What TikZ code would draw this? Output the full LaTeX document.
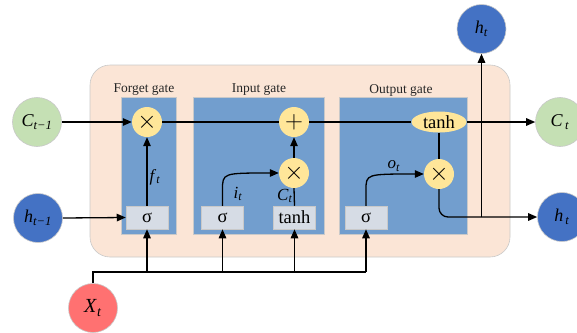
\documentclass[tikz,border=0pt]{standalone}
\usepackage{fontspec}
\setmainfont{Liberation Serif}
\usetikzlibrary{arrows.meta,shapes.geometric}
\definecolor{peach}{HTML}{FBE5D6}
\definecolor{gateblue}{HTML}{729ECE}
\definecolor{sigbox}{HTML}{D6DCE5}
\definecolor{opyellow}{HTML}{FFE699}
\definecolor{cgreen}{HTML}{C5E0B4}
\definecolor{hblue}{HTML}{4472C4}
\definecolor{xred}{HTML}{FF7171}
\definecolor{edgegray}{HTML}{C9C9C9}
\newcommand{\ital}[2]{\textit{#1}\textsubscript{\textit{#2}}}
\tikzset{
  state/.style={circle, draw=edgegray, line width=0.6pt, minimum size=49pt, inner sep=0pt, font=\fontsize{18}{20}\selectfont},
  opcirc/.style={circle, fill=opyellow, draw=none, minimum size=30pt, inner sep=0pt, font=\fontsize{24}{26}\selectfont},
  actbox/.style={rectangle, fill=sigbox, draw=edgegray, line width=0.5pt, minimum width=42pt, minimum height=23pt, inner sep=0pt, font=\fontsize{18.5}{20}\selectfont},
  gatebox/.style={rectangle, fill=gateblue, draw=edgegray, line width=0.6pt, inner sep=0pt},
  gatelabel/.style={font=\fontsize{13.5}{15}\selectfont, text=black!85},
  varlabel/.style={font=\fontsize{17}{18}\selectfont, inner sep=1pt},
  flow/.style={line width=1.3pt, draw=black},
}
\begin{document}
\begin{tikzpicture}[x=1pt,y=-1pt, >={Triangle[length=9pt,width=7.5pt]}]
\useasboundingbox (0,0) rectangle (577,332);
\clip (0,0) rectangle (577,332);
% big cell
\node[rectangle, rounded corners=20pt, fill=peach, draw=edgegray, line width=0.6pt, minimum width=420pt, minimum height=192pt] (cell) at (300,161) {};
% gates
\node[gatebox, minimum width=55pt, minimum height=137pt] (fg) at (148.5,165.5) {};
\node[gatebox, minimum width=131pt, minimum height=137pt] (ig) at (258.5,165.5) {};
\node[gatebox, minimum width=128pt, minimum height=137pt] (og) at (403,165.5) {};
\node[gatelabel] (fgl) at (144,90) {Forget gate};
\node[gatelabel] (igl) at (259,90) {Input gate};
\node[gatelabel] (ogl) at (401,90) {Output gate};
% states
\node[state, fill=cgreen] (cprev) at (37,122) {\ital{C}{t−1}};
\node[state, fill=hblue] (hprev) at (38,218) {\ital{h}{t−1}};
\node[state, fill=cgreen] (cnext) at (560,122) {\ital{C}{\,t}};
\node[state, fill=hblue] (hnext) at (562,217) {\ital{h}{\,t}};
\node[state, fill=hblue] (htop) at (481.5,29) {\ital{h}{t}};
\node[state, fill=xred, font=\fontsize{20}{22}\selectfont] (xin) at (93,308) {\ital{X}{t}};
% forget gate
\node[opcirc] (fm) at (147,122) {$\times$};
\node[actbox] (fs) at (147,217.5) {σ};
% input gate
\node[opcirc] (ia) at (294,122) {$+$};
\node[opcirc] (im) at (294,173) {$\times$};
\node[actbox] (is) at (222.5,217.5) {σ};
\node[actbox] (it) at (294.5,217.5) {tanh};
% output gate
\node[opcirc, ellipse, minimum width=55pt, minimum height=21pt, font=\fontsize{18.5}{20}\selectfont] (ot) at (439,122) {tanh};
\node[opcirc] (om) at (439,174) {$\times$};
\node[actbox] (os) at (366,217.5) {σ};
% labels
\node[varlabel] (flab) at (155,177) {\ital{f}{t}};
\node[varlabel] (ilab) at (238,194) {\ital{i}{t}};
\node[varlabel] (clab) at (285,196) {\ital{C}{t}};
\node[varlabel] (olab) at (394,166) {\ital{o}{t}};
% cell state line
\draw[flow,->] (cprev.east) -- (fm.west);
\draw[flow] (fm.east) -- (ia.west);
\draw[flow] (ia.east) -- (ot.west);
\draw[flow,->] (ot.east) -- (cnext.west);
% hidden input
\draw[flow,->] (hprev.east) -- (fs.west);
\draw[flow,->] (fs.north) -- (fm.south);
% input gate flows
\draw[flow,->] (is.north) -- (222.5,190) .. controls (222.5,173) .. (im.west);
\draw[flow] (it.north) -- (im.south);
\draw[flow,->] (im.north) -- (ia.south);
% output gate flows
\draw[flow] (ot.south) -- (om.north);
\draw[flow,->] (os.north) -- (366,190) .. controls (366,174) .. (om.west);
\draw[flow,->, rounded corners=9pt] (om.south) |- (hnext.west);
\coordinate (hj) at (481.5,217);
\draw[flow,->] (hj) -- (htop.south);
% x input bus
\coordinate (bus) at (0,272);
\draw[flow] (xin.north) |- (os.south |- bus);
\draw[flow,->] (os.south |- bus) -- (os.south);
\draw[flow,->] (fs.south |- bus) -- (fs.south);
\draw[flow,->] (is.south |- bus) -- (is.south);
\draw[flow,->] (it.south |- bus) -- (it.south);
\end{tikzpicture}
\end{document}
